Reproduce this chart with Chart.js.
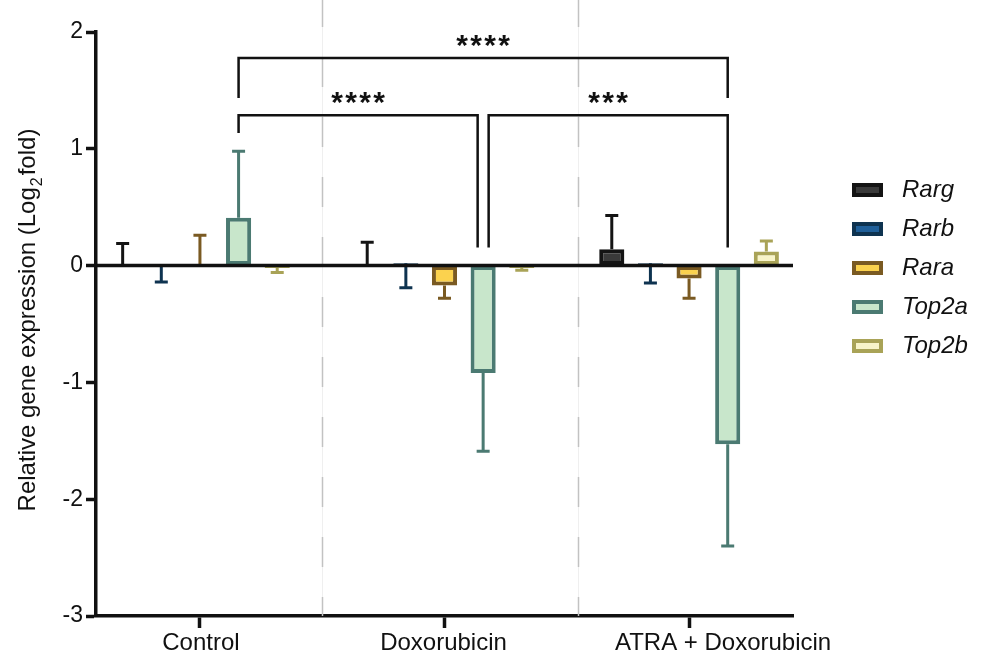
<!DOCTYPE html>
<html>
<head>
<meta charset="utf-8">
<script src="https://cdn.jsdelivr.net/npm/chart.js@4.4.1/dist/chart.umd.min.js"></script>
<style>
  html, body { margin: 0; padding: 0; background: #fff; }
  canvas { display: block; }
</style>
</head>
<body>
<canvas id="geneChart" width="985" height="655"></canvas>
<script>
var groups = ['Control', 'Doxorubicin', 'ATRA + Doxorubicin'];
var genes = ['Rarg', 'Rarb', 'Rara', 'Top2a', 'Top2b'];

// mean log2 fold change, one value per group
var rarg  = [0.00, 0.00, 0.14];
var rarb  = [0.00, 0.02, 0.02];
var rara  = [0.00, -0.17, -0.11];
var top2a = [0.41, -0.92, -1.53];
var top2b = [-0.02, -0.02, 0.12];

// where each (one sided) error bar ends
var rargErr  = [0.19, 0.20, 0.43];
var rarbErr  = [-0.14, -0.19, -0.15];
var raraErr  = [0.26, -0.28, -0.28];
var top2aErr = [0.98, -1.59, -2.40];
var top2bErr = [-0.06, -0.04, 0.21];

var sigLabels = ['****', '****', '***'];

var FONT = "'Liberation Sans', Arial, sans-serif";

function pts(vals) {
    return vals.map(function (v, i) { return { x: i, y: v }; });
}

var fills   = ['#3a3a3a', '#1f5f99', '#fbd24e', '#c8e6cb', '#f8f4c9'];
var borders = ['#141414', '#0e3350', '#7a5a22', '#4b7a72', '#a9a357'];
var means = [rarg, rarb, rara, top2a, top2b];
var errs  = [rargErr, rarbErr, raraErr, top2aErr, top2bErr];

var datasets = genes.map(function (g, i) {
    return {
        label: g,
        data: pts(means[i]),
        errEnd: errs[i],
        backgroundColor: fills[i],
        borderColor: borders[i],
        borderWidth: 4,
        borderSkipped: false,
        categoryPercentage: 0.79,
        barPercentage: 0.65
    };
});

// dashed separators between groups
var separators = {
    id: 'separators',
    beforeDatasetsDraw: function (chart) {
        var ctx = chart.ctx, x = chart.scales.x, bottom = chart.chartArea.bottom;
        ctx.save();
        [0.5, 1.545].forEach(function (v) {
            var px = Math.round(x.getPixelForValue(v)) + 0.5;
            ctx.setLineDash([]);
            ctx.strokeStyle = '#efefef';
            ctx.lineWidth = 1;
            ctx.beginPath();
            ctx.moveTo(px, 8);
            ctx.lineTo(px, bottom);
            ctx.stroke();
            ctx.setLineDash([30, 30]);
            ctx.strokeStyle = '#c2c2c2';
            ctx.lineWidth = 1.5;
            ctx.beginPath();
            ctx.moveTo(px, -3);
            ctx.lineTo(px, bottom);
            ctx.stroke();
        });
        ctx.restore();
    }
};

// error bars, zero line, significance brackets
var overlays = {
    id: 'overlays',
    afterDatasetsDraw: function (chart) {
        var ctx = chart.ctx, y = chart.scales.y, area = chart.chartArea;
        ctx.save();
        chart.data.datasets.forEach(function (ds, i) {
            var meta = chart.getDatasetMeta(i);
            meta.data.forEach(function (el, j) {
                var y0 = y.getPixelForValue(ds.data[j].y);
                var y1 = y.getPixelForValue(ds.errEnd[j]);
                ctx.strokeStyle = ds.borderColor;
                ctx.lineWidth = 3;
                ctx.beginPath();
                ctx.moveTo(el.x, y0);
                ctx.lineTo(el.x, y1);
                ctx.moveTo(el.x - 6.5, y1);
                ctx.lineTo(el.x + 6.5, y1);
                ctx.stroke();
            });
        });

        // zero line
        ctx.strokeStyle = '#111';
        ctx.lineWidth = 3.5;
        ctx.beginPath();
        ctx.moveTo(area.left, y.getPixelForValue(0));
        ctx.lineTo(area.right, y.getPixelForValue(0));
        ctx.stroke();

        // brackets between Top2a bars
        var t = chart.getDatasetMeta(3).data;
        var brackets = [
            { x1: t[0].x, x2: t[2].x, top: 1.778, leg1: 1.436, leg2: 1.436, text: sigLabels[0] },
            { x1: t[0].x, x2: t[1].x - 5.5, top: 1.287, leg1: 1.136, leg2: 0.154, text: sigLabels[1] },
            { x1: t[1].x + 5.5, x2: t[2].x, top: 1.287, leg1: 0.154, leg2: 0.154, text: sigLabels[2] }
        ];
        ctx.lineWidth = 2.5;
        ctx.strokeStyle = '#111';
        ctx.fillStyle = '#111';
        ctx.textAlign = 'center';
        ctx.textBaseline = 'alphabetic';
        ctx.font = 'bold 30px ' + FONT;
        brackets.forEach(function (b) {
            var yt = y.getPixelForValue(b.top);
            ctx.beginPath();
            ctx.moveTo(b.x1, y.getPixelForValue(b.leg1));
            ctx.lineTo(b.x1, yt);
            ctx.lineTo(b.x2, yt);
            ctx.lineTo(b.x2, y.getPixelForValue(b.leg2));
            ctx.stroke();
            var n = b.text.length, step = 14, cx = (b.x1 + b.x2) / 2;
            for (var k = 0; k < n; k++) {
                ctx.fillText(b.text[k], cx + (k - (n - 1) / 2) * step, yt - 3);
            }
        });
        ctx.restore();
    },
    afterDraw: function (chart) {
        var ctx = chart.ctx, x = chart.scales.x;
        ctx.save();
        ctx.fillStyle = '#111';

        // group labels
        var shift = [1, -1, 34];
        ctx.font = '24px ' + FONT;
        ctx.textAlign = 'center';
        ctx.textBaseline = 'middle';
        groups.forEach(function (g, i) {
            ctx.fillText(g, x.getPixelForValue(i) + shift[i], 643);
        });

        // y title with subscript
        ctx.translate(28, 320);
        ctx.rotate(-Math.PI / 2);
        var p1 = 'Relative gene expression (Log', p2 = 'fold)';
        ctx.font = '24px ' + FONT;
        var w1 = ctx.measureText(p1).width, w3 = ctx.measureText(p2).width;
        ctx.font = '16px ' + FONT;
        var w2 = ctx.measureText('2').width + 3;
        var sx = -(w1 + w2 + w3) / 2;
        ctx.textAlign = 'left';
        ctx.textBaseline = 'middle';
        ctx.font = '24px ' + FONT;
        ctx.fillText(p1, sx, 0);
        ctx.font = '16px ' + FONT;
        ctx.fillText('2', sx + w1 + 1, 10);
        ctx.font = '24px ' + FONT;
        ctx.fillText(p2, sx + w1 + w2, 0);
        ctx.setTransform(1, 0, 0, 1, 0, 0);

        // legend
        ctx.font = 'italic 24px ' + FONT;
        chart.data.datasets.forEach(function (ds, i) {
            var cy = 190 + i * 39;
            ctx.fillStyle = ds.borderColor;
            ctx.fillRect(852, cy - 7, 31, 14);
            ctx.fillStyle = ds.backgroundColor;
            ctx.fillRect(856, cy - 3, 23, 6);
            ctx.fillStyle = '#111';
            ctx.fillText(ds.label, 902, cy);
        });
        ctx.restore();
    }
};

new Chart(document.getElementById('geneChart'), {
    type: 'bar',
    data: { datasets: datasets },
    options: {
        responsive: false,
        animation: false,
        devicePixelRatio: 1,
        layout: { padding: { top: 32, right: 192, left: 0, bottom: 0 } },
        plugins: { legend: { display: false }, tooltip: { enabled: false } },
        scales: {
            x: {
                type: 'linear',
                offset: false,
                min: -0.425,
                max: 2.425,
                afterBuildTicks: function (s) {
                    s.ticks = groups.map(function (g, i) { return { value: i }; });
                },
                afterFit: function (s) { s.height = 39; },
                ticks: { display: false },
                grid: { offset: false, drawOnChartArea: false, tickLength: 12, tickWidth: 3.5, tickColor: '#111' },
                border: { color: '#111', width: 3.5 }
            },
            y: {
                min: -3,
                max: 2,
                afterFit: function (s) { s.width = 96; },
                ticks: { stepSize: 1, color: '#111', padding: 3, font: { size: 23, family: FONT } },
                grid: { drawOnChartArea: false, tickLength: 10, tickWidth: 3.5, tickColor: '#111' },
                border: { color: '#111', width: 3.5 }
            }
        }
    },
    plugins: [separators, overlays]
});
</script>
</body>
</html>
